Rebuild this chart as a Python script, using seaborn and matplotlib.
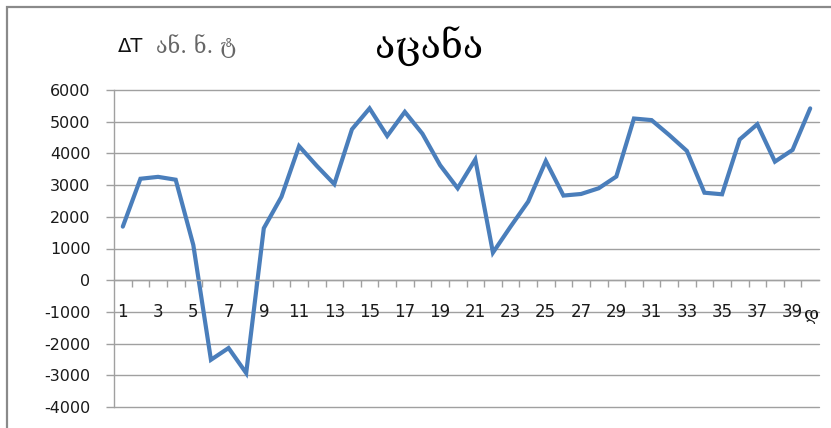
import matplotlib
matplotlib.use("Agg")
import matplotlib.pyplot as plt
from matplotlib.patches import Rectangle
from matplotlib.ticker import FixedLocator, NullFormatter
import seaborn as sns
import pandas as pd

# Daily temperature deviation series
days = list(range(1, 41))
delta_t = [1690, 3200, 3260, 3170, 1110, -2510, -2140, -2930, 1640, 2630,
           4230, 3610, 3030, 4760, 5420, 4550, 5310, 4620, 3630, 2900,
           3810, 870, 1690, 2480, 3760, 2670, 2720, 2900, 3270, 5100,
           5050, 4580, 4080, 2760, 2710, 4440, 4920, 3740, 4110, 5420]
y_ticks = [-4000, -3000, -2000, -1000, 0, 1000, 2000, 3000, 4000, 5000, 6000]
x_labels = [str(d) for d in days if d % 2 == 1]

title_text = "აცანა"
unit_symbol = "ΔT"
unit_text = "ან. ნ. ტ"
axis_text = "დ"

sns.set_theme(style="white")
plt.rcParams["font.family"] = ["DejaVu Sans"]
plt.rcParams["axes.unicode_minus"] = False

grid_col = "#a0a0a0"
line_col = "#4a7ebb"

fig = plt.figure(figsize=(8.31, 4.28), dpi=100)
fig.patch.set_facecolor("white")

# outer chart frame (runs off the right and bottom edges)
fig.patches.append(Rectangle((7 / 831, -0.1), 1.2, 1.1 - 7 / 428,
                             transform=fig.transFigure, fill=False,
                             edgecolor="#8a8a8a", linewidth=1.6))

ax = fig.add_axes([114 / 831, 1 - 407 / 428, 705 / 831, 317 / 428])
df = pd.DataFrame({"day": days, "dT": delta_t})
sns.lineplot(data=df, x="day", y="dT", ax=ax, color=line_col,
             linewidth=3.0, solid_joinstyle="miter")

ax.set_xlim(0.5, 40.5)
ax.set_ylim(-4000, 6000)
ax.set_xlabel("")
ax.set_ylabel("")

# horizontal gridlines
ax.set_yticks(y_ticks)
ax.xaxis.grid(False)
ax.yaxis.grid(False)
for yv in y_ticks:
    ax.axhline(yv, color=grid_col, linewidth=1.0, zorder=0, clip_on=False)

for s in ["top", "right"]:
    ax.spines[s].set_visible(False)
ax.spines["left"].set_color(grid_col)
ax.spines["left"].set_linewidth(1.0)
ax.spines["bottom"].set_position(("data", 0))
ax.spines["bottom"].set_color(grid_col)
ax.spines["bottom"].set_linewidth(1.0)

ax.tick_params(axis="y", which="major", direction="out", length=6,
               width=1.0, color=grid_col, pad=11, labelsize=11.5,
               labelcolor="#1a1a1a", left=True)

# category labels on odd days, boundary ticks between categories
ax.set_xticks([d for d in days if d % 2 == 1])
ax.set_xticklabels(x_labels)
ax.xaxis.set_minor_locator(FixedLocator([d + 0.5 for d in days[:-1]]))
ax.xaxis.set_minor_formatter(NullFormatter())
ax.tick_params(axis="x", which="major", length=0, pad=16.5,
               labelsize=12, labelcolor="#1a1a1a", bottom=True)
ax.tick_params(axis="x", which="minor", direction="out", length=5,
               width=1.0, color=grid_col, bottom=True)

# texts
fig.text(429 / 831, 1 - 47 / 428, title_text, fontsize=27,
         family=["DejaVu Serif", "DejaVu Sans"],
         ha="center", va="center", color="black")
fig.text(118 / 831, 1 - 46 / 428, unit_symbol, fontsize=14,
         ha="left", va="center", color="#111111")
fig.text(156 / 831, 1 - 46 / 428, unit_text, fontsize=15.5,
         family=["DejaVu Serif", "DejaVu Sans"],
         ha="left", va="center", color="#666666")
ax.text(0.99, (407 - 314) / 317, axis_text, transform=ax.transAxes,
        fontsize=13, family=["DejaVu Serif", "DejaVu Sans"],
        ha="center", va="center", color="#1a1a1a", clip_on=False)

fig.savefig("out.png", dpi=100, facecolor="white")
